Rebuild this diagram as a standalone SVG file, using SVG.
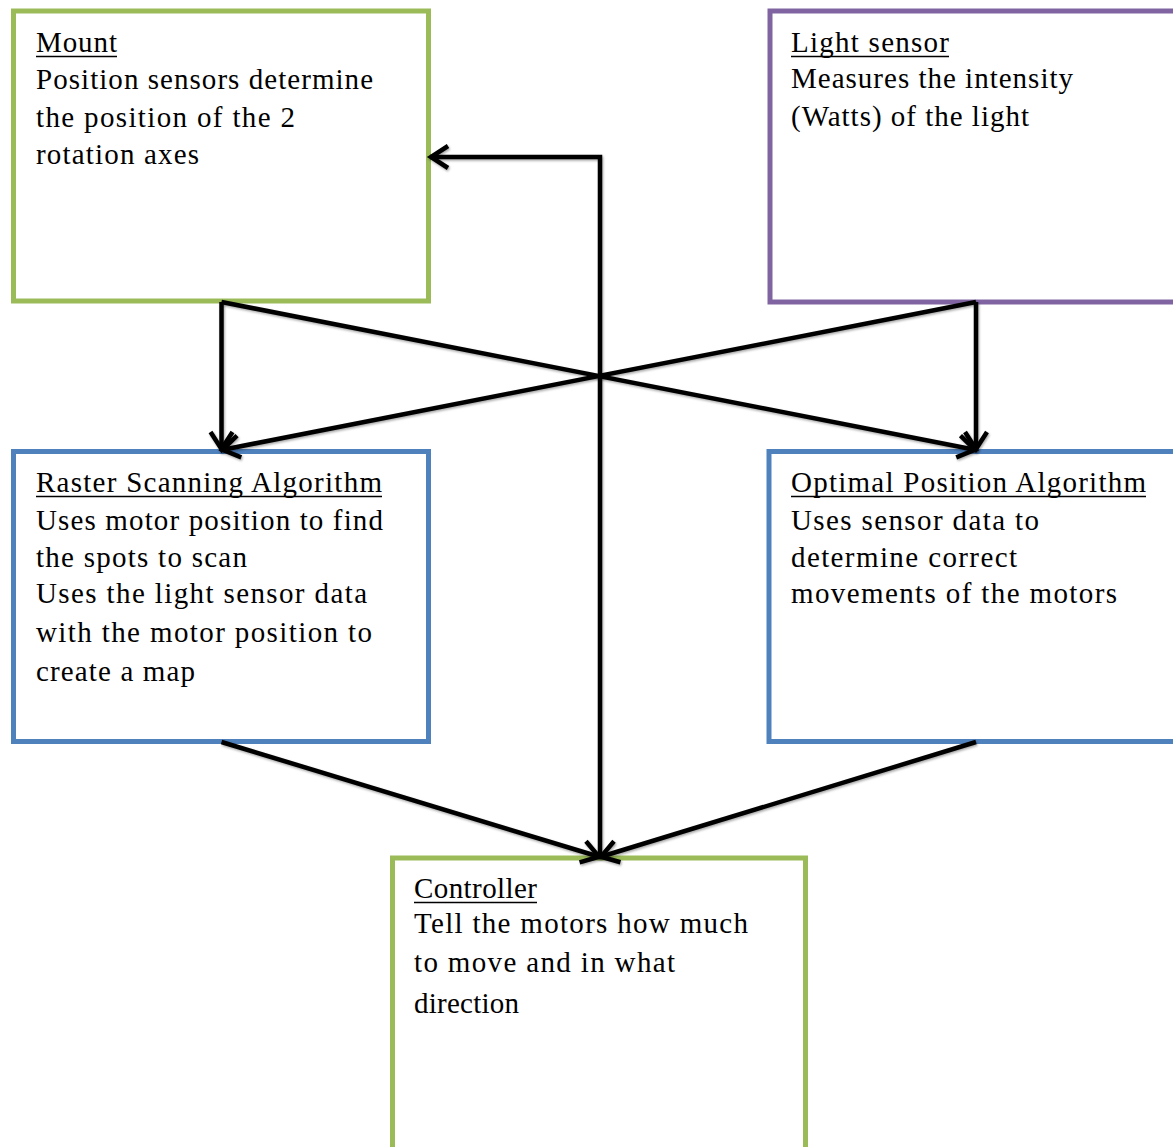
<svg xmlns="http://www.w3.org/2000/svg" width="1173" height="1147" viewBox="0 0 1173 1147">
<style>
.box{fill:#fff;stroke-width:5}
.green{stroke:#9BBB59}
.purple{stroke:#8064A2}
.blue{stroke:#4F81BD}
text{font-family:"Liberation Serif","Times New Roman",serif;font-size:29px;fill:#000}
.ul{stroke:#000;stroke-width:1.6}
.conn{fill:none;stroke:#000;stroke-width:4.5;marker-end:url(#arr);filter:url(#sh)}
</style>
<defs>
<filter id="sh" filterUnits="userSpaceOnUse" x="0" y="0" width="1173" height="1147">
<feDropShadow dx="1" dy="1.5" stdDeviation="1" flood-color="#000" flood-opacity="0.35"/>
</filter>
<marker id="arr" markerUnits="userSpaceOnUse" viewBox="-26 -16 30 32" refX="0" refY="0" markerWidth="30" markerHeight="32" orient="auto" overflow="visible">
<path d="M-18,-11 L-1,0 L-18,11" fill="none" stroke="#000" stroke-width="4.5"/>
</marker>
</defs>
<rect width="1173" height="1147" fill="#fff"/>
<g id="mount">
<rect class="box green" x="13.5" y="11" width="415" height="290"/>
<text x="36" y="52" textLength="81" lengthAdjust="spacing">Mount</text>
<line class="ul" x1="36" y1="56.5" x2="117" y2="56.5"/>
<text x="36" y="89" textLength="337" lengthAdjust="spacing">Position sensors determine</text>
<text x="36" y="127" textLength="259" lengthAdjust="spacing">the position of the 2</text>
<text x="36" y="164" textLength="163" lengthAdjust="spacing">rotation axes</text>
</g>
<g id="light-sensor">
<rect class="box purple" x="770" y="11" width="420" height="291"/>
<text x="791" y="52" textLength="158" lengthAdjust="spacing">Light sensor</text>
<line class="ul" x1="791" y1="56.5" x2="949" y2="56.5"/>
<text x="791" y="88" textLength="282" lengthAdjust="spacing">Measures the intensity</text>
<text x="791" y="126" textLength="238" lengthAdjust="spacing">(Watts) of the light</text>
</g>
<g id="raster">
<rect class="box blue" x="13.5" y="451.5" width="415" height="290"/>
<text x="36" y="492" textLength="346" lengthAdjust="spacing">Raster Scanning Algorithm</text>
<line class="ul" x1="36" y1="496.5" x2="382" y2="496.5"/>
<text x="36" y="530" textLength="347" lengthAdjust="spacing">Uses motor position to find</text>
<text x="36" y="567" textLength="211" lengthAdjust="spacing">the spots to scan</text>
<text x="36" y="603" textLength="331" lengthAdjust="spacing">Uses the light sensor data</text>
<text x="36" y="642" textLength="336" lengthAdjust="spacing">with the motor position to</text>
<text x="36" y="681" textLength="159" lengthAdjust="spacing">create a map</text>
</g>
<g id="optimal">
<rect class="box blue" x="769" y="451.5" width="420" height="290"/>
<text x="791" y="492" textLength="355" lengthAdjust="spacing">Optimal Position Algorithm</text>
<line class="ul" x1="791" y1="496.5" x2="1146" y2="496.5"/>
<text x="791" y="530" textLength="248" lengthAdjust="spacing">Uses sensor data to</text>
<text x="791" y="567" textLength="226" lengthAdjust="spacing">determine correct</text>
<text x="791" y="603" textLength="326" lengthAdjust="spacing">movements of the motors</text>
</g>
<g id="controller">
<rect class="box green" x="392.5" y="858" width="413" height="300"/>
<text x="414" y="898" textLength="123" lengthAdjust="spacing">Controller</text>
<line class="ul" x1="414" y1="902.5" x2="537" y2="902.5"/>
<text x="414" y="933" textLength="334" lengthAdjust="spacing">Tell the motors how much</text>
<text x="414" y="972" textLength="261" lengthAdjust="spacing">to move and in what</text>
<text x="414" y="1013" textLength="105" lengthAdjust="spacing">direction</text>
</g>
<g id="connectors">
<path class="conn" d="M600,858 V157 H430"/>
<path class="conn" d="M221.5,302 V450"/>
<path class="conn" d="M976,302 V450"/>
<path class="conn" d="M221.5,302 L976,450"/>
<path class="conn" d="M976,302 L221.5,450"/>
<path class="conn" d="M221.5,742 L600,857"/>
<path class="conn" d="M976,742 L600,857"/>
</g>
</svg>
